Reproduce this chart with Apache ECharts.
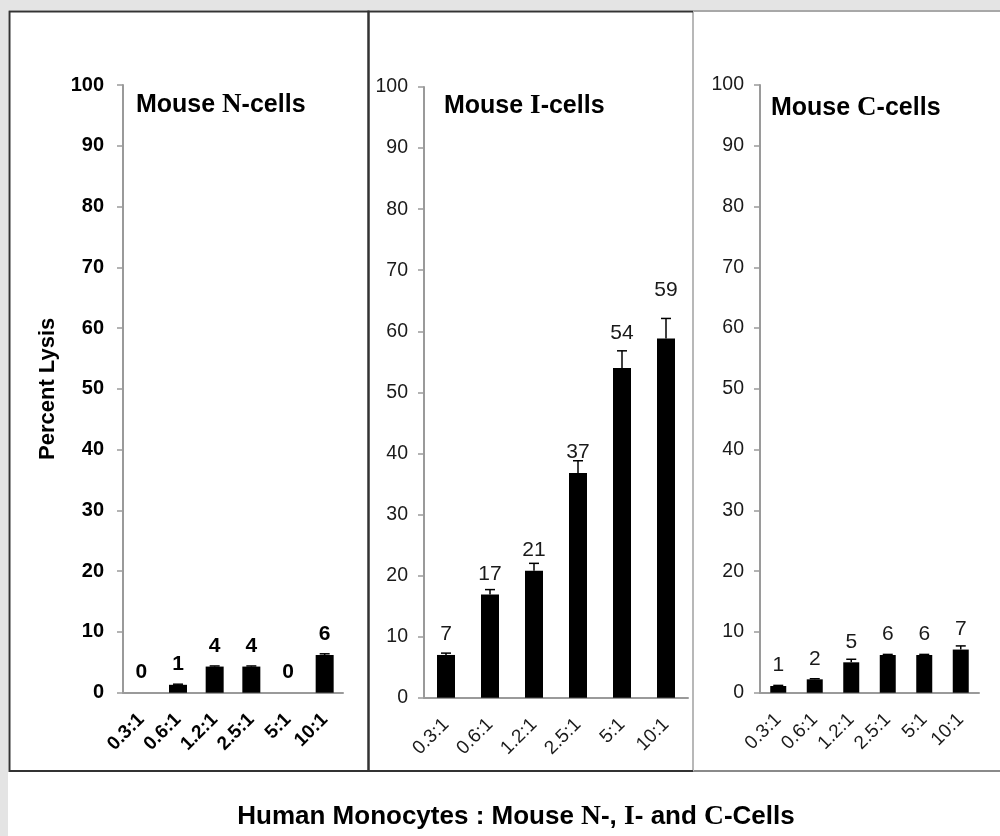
<!DOCTYPE html>
<html>
<head>
<meta charset="utf-8">
<script src="https://cdn.jsdelivr.net/npm/echarts@6/dist/echarts.min.js"></script>
<style>
html,body{margin:0;padding:0;background:#fff;}
#chart{width:1000px;height:836px;}
</style>
</head>
<body>
<div id="chart"></div>
<script>
const categories = ['0.3:1', '0.6:1', '1.2:1', '2.5:1', '5:1', '10:1'];
const nCells = [0, 1.3, 4.3, 4.3, 0, 6.2];
const nErr   = [0, 0.1, 0.1, 0.1, 0, 0.2];
const iCells = [7.0, 16.9, 20.8, 36.8, 54.0, 58.8];
const iErr   = [0.3, 0.8, 1.2, 2.0, 2.8, 3.3];
const cCells = [1.1, 2.2, 5.0, 6.2, 6.2, 7.1];
const cErr   = [0.1, 0.1, 0.5, 0.1, 0.1, 0.6];
const yMin = 0, yMax = 100, yStep = 10;
const panelTitles = ['Mouse {s|N}-cells', 'Mouse {s|I}-cells', 'Mouse {s|C}-cells'];
const mainTitle = 'Human Monocytes : Mouse {s|N}-, {s|I}- and {s|C}-Cells';
const yAxisName = 'Percent Lysis';

const FONT = '"Liberation Sans", Arial, sans-serif';
const SERIF = '"Liberation Serif", "Times New Roman", serif';

const panels = [
  {vals: nCells, errs: nErr, grid: {left: 123, top: 85, width: 220, height: 607.7}, bold: true, barWidth: 18, lift: {}},
  {vals: iCells, errs: iErr, grid: {left: 424, top: 87, width: 264, height: 610.7}, bold: false, barWidth: 18, lift: {4: 14, 5: 28}},
  {vals: cCells, errs: cErr, grid: {left: 760, top: 85, width: 219, height: 607.7}, bold: false, barWidth: 16, lift: {}}
];

const grids = [], xAxes = [], yAxes = [], series = [];
panels.forEach((p, k) => {
  const fw = p.bold ? 'bold' : 'normal';
  const col = p.bold ? '#000' : '#1a1a1a';
  grids.push(Object.assign({containLabel: false}, p.grid));
  xAxes.push({
    type: 'category', gridIndex: k, data: categories,
    axisLine: {lineStyle: {color: '#9a9a9a', width: 2}},
    axisTick: {show: false},
    axisLabel: {rotate: 45, margin: 24, fontSize: 19, fontWeight: fw, color: col, fontFamily: FONT, interval: 0}
  });
  yAxes.push({
    type: 'value', gridIndex: k, min: yMin, max: yMax, interval: yStep,
    splitLine: {show: false},
    axisLine: {show: true, lineStyle: {color: '#9a9a9a', width: 2}},
    axisTick: {show: true, length: 6, lineStyle: {color: '#9a9a9a', width: 1.5}},
    axisLabel: {margin: k === 0 ? 19 : 16, fontSize: k === 0 ? 20 : 19.5, fontWeight: fw, color: col, fontFamily: FONT},
    name: k === 0 ? yAxisName : '',
    nameLocation: 'middle', nameGap: 64, nameRotate: 90,
    nameTextStyle: {fontSize: 22, fontWeight: 'bold', color: '#000', fontFamily: FONT}
  });
  series.push({
    type: 'bar', xAxisIndex: k, yAxisIndex: k, barWidth: p.barWidth,
    itemStyle: {color: '#000'},
    data: p.vals.map((v, i) => ({
      value: v,
      label: {distance: 10 + (p.lift[i] || 0)}
    })),
    label: {
      show: true, position: 'top', fontSize: 21, fontWeight: fw, color: col, fontFamily: FONT,
      formatter: (d) => String(Math.round(d.value))
    },
    z: 3
  });
  series.push({
    type: 'custom', xAxisIndex: k, yAxisIndex: k,
    data: p.vals.map((v, i) => [i, v, p.errs[i]]),
    renderItem: function (params, api) {
      const e = api.value(2);
      if (!e) return null;
      const x = api.value(0), v = api.value(1);
      const a = api.coord([x, v]);
      const b = api.coord([x, v + e]);
      return {
        type: 'group',
        children: [
          {type: 'line', shape: {x1: a[0], y1: a[1], x2: b[0], y2: b[1]}, style: {stroke: '#000', lineWidth: 1.5}},
          {type: 'line', shape: {x1: b[0] - 5, y1: b[1], x2: b[0] + 5, y2: b[1]}, style: {stroke: '#000', lineWidth: 1.5}}
        ]
      };
    },
    z: 4
  });
});

const titleRich = {s: {fontFamily: SERIF, fontWeight: 'bold', fontSize: 27, color: '#000'}};
const titles = [
  {text: panelTitles[0], left: 136, top: 92},
  {text: panelTitles[1], left: 444, top: 93},
  {text: panelTitles[2], left: 771, top: 95}
].map(t => Object.assign(t, {padding: 0, textStyle: {fontSize: 25, fontWeight: 'bold', color: '#000', fontFamily: FONT, rich: titleRich}}));
titles.push({
  text: mainTitle, left: 516, top: 803, textAlign: 'center', padding: 0,
  textStyle: {fontSize: 26, fontWeight: 'bold', color: '#000', fontFamily: FONT,
    rich: {s: {fontFamily: SERIF, fontWeight: 'bold', fontSize: 27.5, color: '#000'}}}
});

const option = {
  backgroundColor: '#fff',
  animation: false,
  title: titles,
  grid: grids,
  xAxis: xAxes,
  yAxis: yAxes,
  series: series,
  graphic: {elements: [
    {type: 'rect', shape: {x: 0, y: 0, width: 1000, height: 10}, style: {fill: '#e4e4e4'}, z: -10, silent: true},
    {type: 'rect', shape: {x: 0, y: 0, width: 8, height: 836}, style: {fill: '#e4e4e4'}, z: -10, silent: true},
    {type: 'polyline', shape: {points: [[693, 11], [1000, 11]]}, style: {stroke: '#a8a8a8', lineWidth: 2, fill: null}, z: 10, silent: true},
    {type: 'line', shape: {x1: 693, y1: 771, x2: 1000, y2: 771}, style: {stroke: '#8a8a8a', lineWidth: 2}, z: 10, silent: true},
    {type: 'line', shape: {x1: 693, y1: 11, x2: 693, y2: 771}, style: {stroke: '#b8b8b8', lineWidth: 2}, z: 10, silent: true},
    {type: 'rect', shape: {x: 9.5, y: 11.5, width: 359, height: 759.5}, style: {stroke: '#333', lineWidth: 2, fill: null}, z: 10, silent: true},
    {type: 'polyline', shape: {points: [[693, 11.5], [368.5, 11.5], [368.5, 771], [693, 771]]}, style: {stroke: '#333', lineWidth: 2, fill: null}, z: 10, silent: true}
  ]}
};

const chart = echarts.init(document.getElementById('chart'), null, {renderer: 'canvas'});
chart.setOption(option);
</script>
</body>
</html>
